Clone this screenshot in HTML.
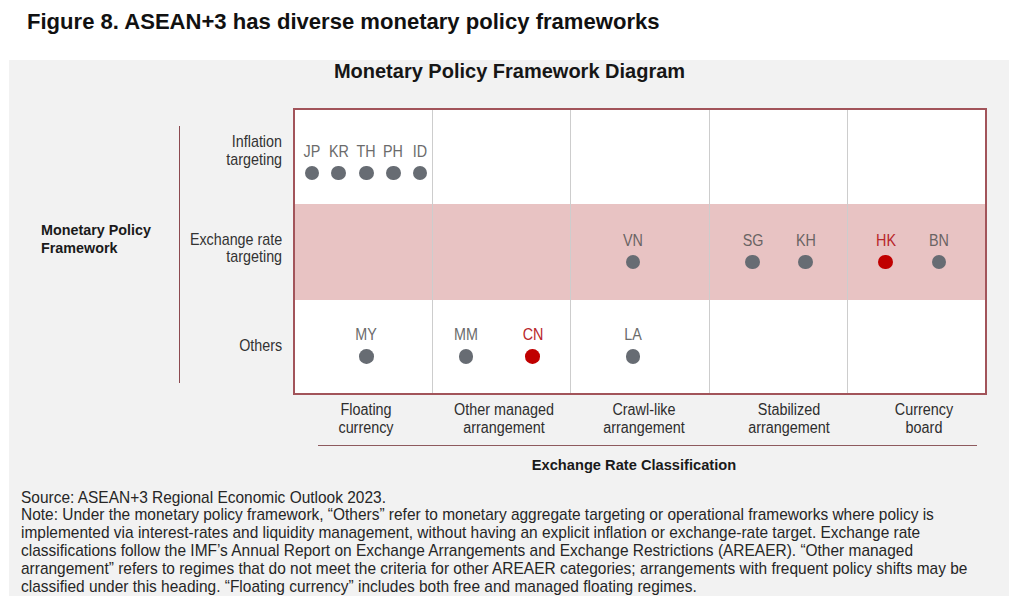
<!DOCTYPE html>
<html><head><meta charset="utf-8"><style>
html,body{margin:0;padding:0;width:1024px;height:614px;overflow:hidden;background:#fff}
.t{position:absolute;font-family:"Liberation Sans",sans-serif;white-space:nowrap}
</style></head><body>
<div class="t" style="left:27.4px;top:9.17px;font-size:22.6px;line-height:25.99px;font-weight:700;color:#111;letter-spacing:0px;transform:scaleX(0.9765);transform-origin:left center;">Figure 8. ASEAN+3 has diverse monetary policy frameworks</div>
<div style="position:absolute;left:8.8px;top:59.7px;width:1000.5px;height:536.1px;background:#f2f2f2"></div>
<div class="t" style="left:209.5px;width:600px;text-align:center;top:59.57px;font-size:20px;line-height:23.00px;font-weight:700;color:#161616;letter-spacing:0px;">Monetary Policy Framework Diagram</div>
<div style="position:absolute;left:178.8px;top:126px;width:1.4px;height:256.6px;background:#8c4a50"></div>
<div class="t" style="left:41px;top:222.16px;font-size:14.8px;line-height:17.02px;font-weight:700;color:#1a1a1a;letter-spacing:0px;transform:scaleX(0.969);transform-origin:left center;">Monetary Policy</div>
<div class="t" style="left:41px;top:239.66px;font-size:14.8px;line-height:17.02px;font-weight:700;color:#1a1a1a;letter-spacing:0px;transform:scaleX(0.969);transform-origin:left center;">Framework</div>
<div class="t" style="right:742px;top:132.83px;font-size:15.7px;line-height:18.05px;font-weight:400;color:#333;letter-spacing:0px;transform:scaleX(0.912);transform-origin:right center;">Inflation</div>
<div class="t" style="right:742px;top:150.73px;font-size:15.7px;line-height:18.05px;font-weight:400;color:#333;letter-spacing:0px;transform:scaleX(0.912);transform-origin:right center;">targeting</div>
<div class="t" style="right:742px;top:231.33px;font-size:15.7px;line-height:18.05px;font-weight:400;color:#333;letter-spacing:0px;transform:scaleX(0.912);transform-origin:right center;">Exchange rate</div>
<div class="t" style="right:742px;top:248.43px;font-size:15.7px;line-height:18.05px;font-weight:400;color:#333;letter-spacing:0px;transform:scaleX(0.912);transform-origin:right center;">targeting</div>
<div class="t" style="right:742px;top:337.03px;font-size:15.7px;line-height:18.05px;font-weight:400;color:#333;letter-spacing:0px;transform:scaleX(0.912);transform-origin:right center;">Others</div>
<div style="position:absolute;left:293px;top:108px;width:694px;height:287px;background:#fff;box-sizing:border-box;border:2px solid #a2545a"></div>
<div style="position:absolute;left:295px;top:203.5px;width:690px;height:96px;background:#e8c3c3"></div>
<div style="position:absolute;left:432.29999999999995px;top:110px;width:1.2px;height:283px;background:#cdcdcd"></div>
<div style="position:absolute;left:570.3px;top:110px;width:1.2px;height:283px;background:#cdcdcd"></div>
<div style="position:absolute;left:708.85px;top:110px;width:1.2px;height:283px;background:#cdcdcd"></div>
<div style="position:absolute;left:846.85px;top:110px;width:1.2px;height:283px;background:#cdcdcd"></div>
<div style="position:absolute;left:293px;top:108px;width:694px;height:287px;box-sizing:border-box;border:2px solid #a2545a"></div>
<div class="t" style="left:12px;width:600px;text-align:center;top:142.62px;font-size:15.6px;line-height:17.94px;font-weight:400;color:#6b6b6b;letter-spacing:0px;transform:scaleX(0.92);transform-origin:center center;">JP</div>
<div style="position:absolute;left:304.7px;top:165.7px;width:14.6px;height:14.6px;border-radius:50%;background:#676c73"></div>
<div class="t" style="left:38.60000000000002px;width:600px;text-align:center;top:142.62px;font-size:15.6px;line-height:17.94px;font-weight:400;color:#6b6b6b;letter-spacing:0px;transform:scaleX(0.92);transform-origin:center center;">KR</div>
<div style="position:absolute;left:331.3px;top:165.7px;width:14.6px;height:14.6px;border-radius:50%;background:#676c73"></div>
<div class="t" style="left:66.39999999999998px;width:600px;text-align:center;top:142.62px;font-size:15.6px;line-height:17.94px;font-weight:400;color:#6b6b6b;letter-spacing:0px;transform:scaleX(0.92);transform-origin:center center;">TH</div>
<div style="position:absolute;left:359.09999999999997px;top:165.7px;width:14.6px;height:14.6px;border-radius:50%;background:#676c73"></div>
<div class="t" style="left:93.30000000000001px;width:600px;text-align:center;top:142.62px;font-size:15.6px;line-height:17.94px;font-weight:400;color:#6b6b6b;letter-spacing:0px;transform:scaleX(0.92);transform-origin:center center;">PH</div>
<div style="position:absolute;left:386.0px;top:165.7px;width:14.6px;height:14.6px;border-radius:50%;background:#676c73"></div>
<div class="t" style="left:120px;width:600px;text-align:center;top:142.62px;font-size:15.6px;line-height:17.94px;font-weight:400;color:#6b6b6b;letter-spacing:0px;transform:scaleX(0.92);transform-origin:center center;">ID</div>
<div style="position:absolute;left:412.7px;top:165.7px;width:14.6px;height:14.6px;border-radius:50%;background:#676c73"></div>
<div class="t" style="left:333px;width:600px;text-align:center;top:231.62px;font-size:15.6px;line-height:17.94px;font-weight:400;color:#6a6464;letter-spacing:0px;transform:scaleX(0.92);transform-origin:center center;">VN</div>
<div style="position:absolute;left:625.7px;top:254.7px;width:14.6px;height:14.6px;border-radius:50%;background:#676c73"></div>
<div class="t" style="left:452.5px;width:600px;text-align:center;top:231.62px;font-size:15.6px;line-height:17.94px;font-weight:400;color:#6a6464;letter-spacing:0px;transform:scaleX(0.92);transform-origin:center center;">SG</div>
<div style="position:absolute;left:745.2px;top:254.7px;width:14.6px;height:14.6px;border-radius:50%;background:#676c73"></div>
<div class="t" style="left:505.5px;width:600px;text-align:center;top:231.62px;font-size:15.6px;line-height:17.94px;font-weight:400;color:#6a6464;letter-spacing:0px;transform:scaleX(0.92);transform-origin:center center;">KH</div>
<div style="position:absolute;left:798.2px;top:254.7px;width:14.6px;height:14.6px;border-radius:50%;background:#676c73"></div>
<div class="t" style="left:585.5px;width:600px;text-align:center;top:231.62px;font-size:15.6px;line-height:17.94px;font-weight:400;color:#b8262a;letter-spacing:0px;transform:scaleX(0.92);transform-origin:center center;">HK</div>
<div style="position:absolute;left:878.2px;top:254.7px;width:14.6px;height:14.6px;border-radius:50%;background:#c00000"></div>
<div class="t" style="left:639.2px;width:600px;text-align:center;top:231.62px;font-size:15.6px;line-height:17.94px;font-weight:400;color:#6a6464;letter-spacing:0px;transform:scaleX(0.92);transform-origin:center center;">BN</div>
<div style="position:absolute;left:931.9000000000001px;top:254.7px;width:14.6px;height:14.6px;border-radius:50%;background:#676c73"></div>
<div class="t" style="left:66.30000000000001px;width:600px;text-align:center;top:325.82px;font-size:15.6px;line-height:17.94px;font-weight:400;color:#6b6b6b;letter-spacing:0px;transform:scaleX(0.92);transform-origin:center center;">MY</div>
<div style="position:absolute;left:359.0px;top:349.2px;width:14.6px;height:14.6px;border-radius:50%;background:#676c73"></div>
<div class="t" style="left:166.2px;width:600px;text-align:center;top:325.82px;font-size:15.6px;line-height:17.94px;font-weight:400;color:#6b6b6b;letter-spacing:0px;transform:scaleX(0.92);transform-origin:center center;">MM</div>
<div style="position:absolute;left:458.9px;top:349.2px;width:14.6px;height:14.6px;border-radius:50%;background:#676c73"></div>
<div class="t" style="left:232.5px;width:600px;text-align:center;top:325.82px;font-size:15.6px;line-height:17.94px;font-weight:400;color:#b8262a;letter-spacing:0px;transform:scaleX(0.92);transform-origin:center center;">CN</div>
<div style="position:absolute;left:525.2px;top:349.2px;width:14.6px;height:14.6px;border-radius:50%;background:#c00000"></div>
<div class="t" style="left:333px;width:600px;text-align:center;top:325.82px;font-size:15.6px;line-height:17.94px;font-weight:400;color:#6b6b6b;letter-spacing:0px;transform:scaleX(0.92);transform-origin:center center;">LA</div>
<div style="position:absolute;left:625.7px;top:349.2px;width:14.6px;height:14.6px;border-radius:50%;background:#676c73"></div>
<div class="t" style="left:65.80000000000001px;width:600px;text-align:center;top:400.66px;font-size:16px;line-height:18.40px;font-weight:400;color:#2e2e2e;letter-spacing:0px;transform:scaleX(0.898);transform-origin:center center;">Floating</div>
<div class="t" style="left:65.80000000000001px;width:600px;text-align:center;top:418.66px;font-size:16px;line-height:18.40px;font-weight:400;color:#2e2e2e;letter-spacing:0px;transform:scaleX(0.898);transform-origin:center center;">currency</div>
<div class="t" style="left:203.60000000000002px;width:600px;text-align:center;top:400.66px;font-size:16px;line-height:18.40px;font-weight:400;color:#2e2e2e;letter-spacing:0px;transform:scaleX(0.898);transform-origin:center center;">Other managed</div>
<div class="t" style="left:203.60000000000002px;width:600px;text-align:center;top:418.66px;font-size:16px;line-height:18.40px;font-weight:400;color:#2e2e2e;letter-spacing:0px;transform:scaleX(0.898);transform-origin:center center;">arrangement</div>
<div class="t" style="left:343.79999999999995px;width:600px;text-align:center;top:400.66px;font-size:16px;line-height:18.40px;font-weight:400;color:#2e2e2e;letter-spacing:0px;transform:scaleX(0.898);transform-origin:center center;">Crawl-like</div>
<div class="t" style="left:343.79999999999995px;width:600px;text-align:center;top:418.66px;font-size:16px;line-height:18.40px;font-weight:400;color:#2e2e2e;letter-spacing:0px;transform:scaleX(0.898);transform-origin:center center;">arrangement</div>
<div class="t" style="left:489.4px;width:600px;text-align:center;top:400.66px;font-size:16px;line-height:18.40px;font-weight:400;color:#2e2e2e;letter-spacing:0px;transform:scaleX(0.898);transform-origin:center center;">Stabilized</div>
<div class="t" style="left:489.4px;width:600px;text-align:center;top:418.66px;font-size:16px;line-height:18.40px;font-weight:400;color:#2e2e2e;letter-spacing:0px;transform:scaleX(0.898);transform-origin:center center;">arrangement</div>
<div class="t" style="left:624px;width:600px;text-align:center;top:400.66px;font-size:16px;line-height:18.40px;font-weight:400;color:#2e2e2e;letter-spacing:0px;transform:scaleX(0.898);transform-origin:center center;">Currency</div>
<div class="t" style="left:624px;width:600px;text-align:center;top:418.66px;font-size:16px;line-height:18.40px;font-weight:400;color:#2e2e2e;letter-spacing:0px;transform:scaleX(0.898);transform-origin:center center;">board</div>
<div style="position:absolute;left:317.6px;top:444.6px;width:659.3px;height:1.6px;background:#8e5a5e"></div>
<div class="t" style="left:333.79999999999995px;width:600px;text-align:center;top:455.70px;font-size:15.3px;line-height:17.59px;font-weight:700;color:#1a1a1a;letter-spacing:0px;transform:scaleX(0.958);transform-origin:center center;">Exchange Rate Classification</div>
<div class="t" style="left:21px;top:487.60px;font-size:16.6px;line-height:19.09px;font-weight:400;color:#262626;letter-spacing:0px;transform:scaleX(0.932);transform-origin:left center;">Source: ASEAN+3 Regional Economic Outlook 2023.</div>
<div class="t" style="left:21px;top:505.44px;font-size:16.6px;line-height:19.09px;font-weight:400;color:#262626;letter-spacing:0px;transform:scaleX(0.932);transform-origin:left center;">Note: Under the monetary policy framework, “Others” refer to monetary aggregate targeting or operational frameworks where policy is</div>
<div class="t" style="left:21px;top:523.28px;font-size:16.6px;line-height:19.09px;font-weight:400;color:#262626;letter-spacing:0px;transform:scaleX(0.932);transform-origin:left center;">implemented via interest-rates and liquidity management, without having an explicit inflation or exchange-rate target. Exchange rate</div>
<div class="t" style="left:21px;top:541.12px;font-size:16.6px;line-height:19.09px;font-weight:400;color:#262626;letter-spacing:0px;transform:scaleX(0.932);transform-origin:left center;">classifications follow the IMF’s Annual Report on Exchange Arrangements and Exchange Restrictions (AREAER). “Other managed</div>
<div class="t" style="left:21px;top:558.96px;font-size:16.6px;line-height:19.09px;font-weight:400;color:#262626;letter-spacing:0px;transform:scaleX(0.932);transform-origin:left center;">arrangement” refers to regimes that do not meet the criteria for other AREAER categories; arrangements with frequent policy shifts may be</div>
<div class="t" style="left:21px;top:576.80px;font-size:16.6px;line-height:19.09px;font-weight:400;color:#262626;letter-spacing:0px;transform:scaleX(0.932);transform-origin:left center;">classified under this heading. “Floating currency” includes both free and managed floating regimes.</div>
</body></html>
